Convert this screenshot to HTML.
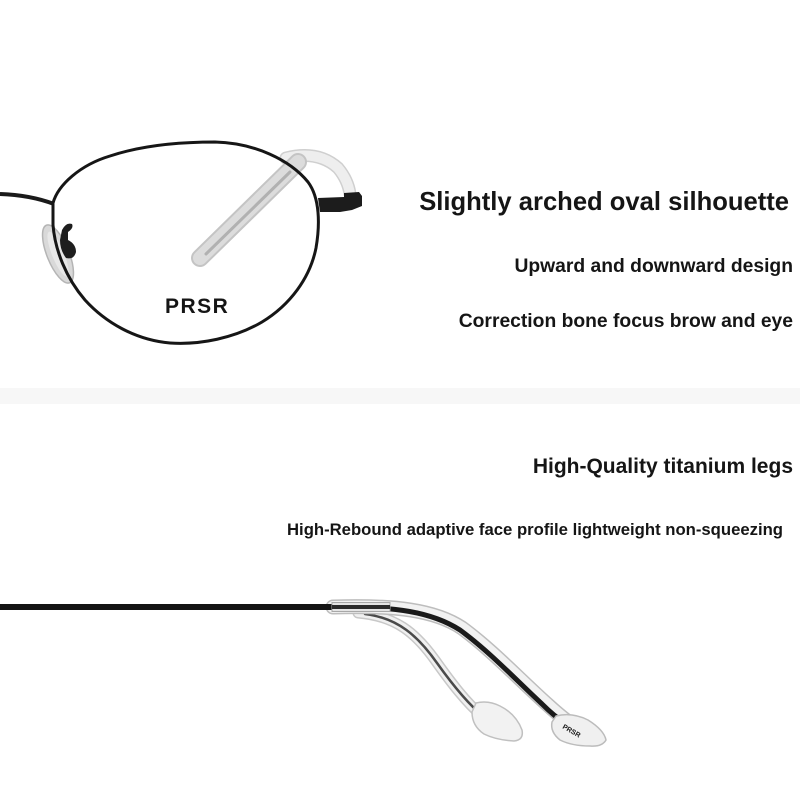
<!DOCTYPE html>
<html>
<head>
<meta charset="utf-8">
<style>
html,body{margin:0;padding:0;background:#fff;}
svg{display:block;}
text{font-family:"Liberation Sans",Arial,sans-serif;font-weight:bold;fill:#151515;}
</style>
</head>
<body>
<svg width="800" height="800" viewBox="0 0 800 800" xmlns="http://www.w3.org/2000/svg">
  <rect x="0" y="0" width="800" height="800" fill="#ffffff"/>
  <!-- gray separator band -->
  <rect x="0" y="388" width="800" height="16" fill="#f7f7f7"/>

  <!-- ===== TOP: front view frame ===== -->
  <!-- back temple (translucent) arc near hinge -->
  <path d="M286,158 Q318,150 338,168 Q348,180 350,194" fill="none" stroke="#cfcfcf" stroke-width="13" stroke-linecap="round"/>
  <path d="M286,158 Q318,150 338,168 Q348,180 350,194" fill="none" stroke="#eeeeee" stroke-width="10" stroke-linecap="round"/>
  <!-- temple tip seen through lens -->
  <path d="M298,162 L200,258" fill="none" stroke="#c4c4c4" stroke-width="18" stroke-linecap="round"/>
  <path d="M298,162 L200,258" fill="none" stroke="#dcdcdc" stroke-width="14" stroke-linecap="round"/>
  <path d="M290,172 L206,254" fill="none" stroke="#9e9e9e" stroke-width="3" stroke-linecap="round" opacity="0.7"/>

  <!-- nose pad -->
  <ellipse cx="58" cy="254" rx="11" ry="31" transform="rotate(-22 58 254)" fill="#d9d9d9" stroke="#b5b5b5" stroke-width="1.5"/>
  <ellipse cx="58" cy="254" rx="6" ry="24" transform="rotate(-22 58 254)" fill="#e8e8e8"/>
  <!-- pad arm -->
  <path d="M62,230 Q66,222 72,224 Q74,228 68,232 L68,240 Q76,244 76,252 Q74,260 66,258 Q60,250 60,240 Z" fill="#1e1e1e"/>

  <!-- bridge -->
  <path d="M0,194 Q30,195 54,204" fill="none" stroke="#1a1a1a" stroke-width="4"/>

  <!-- lens rim -->
  <path d="M53,203 C58,185 80,165 110,156 C140,146 175,142 215,142 C255,143 290,160 308,182 C320,198 320,225 316,248 C310,278 290,305 262,322 C235,338 200,345 170,343 C135,340 105,322 85,300 C66,278 55,250 53,225 Z" fill="none" stroke="#161616" stroke-width="3"/>

  <!-- end piece / hinge -->
  <path d="M318,198 L344,197 L344,193 L359,192 L362,196 L362,206 L352,210 L340,212 L320,212 Z" fill="#1c1c1c"/>

  <!-- PRSR logo -->
  <text x="165" y="313" font-size="21" letter-spacing="1.5" fill="#1e1e1e">PRSR</text>

  <!-- top texts -->
  <text x="789" y="210" font-size="25.6" text-anchor="end">Slightly arched oval silhouette</text>
  <text x="793" y="272" font-size="19.3" text-anchor="end">Upward and downward design</text>
  <text x="793" y="327" font-size="19.3" text-anchor="end">Correction bone focus brow and eye</text>

  <!-- bottom texts -->
  <text x="793" y="473" font-size="21" text-anchor="end">High-Quality titanium legs</text>
  <text x="783" y="535" font-size="16.7" text-anchor="end">High-Rebound adaptive face profile lightweight non-squeezing</text>

  <!-- ===== BOTTOM: side view temple ===== -->
  <!-- back temple -->
  <path d="M358,613 C395,616 415,632 435,660 C452,684 466,702 482,716" fill="none" stroke="#c8c8c8" stroke-width="11" stroke-linecap="round"/>
  <path d="M358,613 C395,616 415,632 435,660 C452,684 466,702 482,716" fill="none" stroke="#f0f0f0" stroke-width="8" stroke-linecap="round"/>
  <path d="M365,614 C398,618 418,636 437,663 C452,684 468,704 483,716" fill="none" stroke="#4a4a4a" stroke-width="2.5" stroke-linecap="round"/>
  <!-- back paddle -->
  <path d="M476,703 Q488,700 500,706 Q516,714 522,730 Q524,740 514,741 Q496,740 484,734 Q472,726 472,712 Z" fill="#f2f2f2" stroke="#c0c0c0" stroke-width="1.5"/>

  <!-- front temple sheath -->
  <path d="M333,607 C395,605 435,610 462,628 C492,650 520,680 548,705 C560,716 570,724 580,730" fill="none" stroke="#bdbdbd" stroke-width="15" stroke-linecap="round"/>
  <path d="M333,607 C395,605 435,610 462,628 C492,650 520,680 548,705 C560,716 570,724 580,730" fill="none" stroke="#f2f2f2" stroke-width="12" stroke-linecap="round"/>
  <!-- front temple black core -->
  <path d="M330,607 C395,606 432,612 460,630 C490,652 516,680 542,704 C552,714 560,720 566,724" fill="none" stroke="#1a1a1a" stroke-width="5" stroke-linecap="round"/>
  <!-- front paddle -->
  <path d="M556,716 Q572,712 588,720 Q604,730 606,740 Q602,747 590,746 Q572,746 560,740 Q550,732 552,722 Z" fill="#f0f0f0" stroke="#bcbcbc" stroke-width="1.5"/>
  <text x="562" y="728" font-size="7" fill="#777" font-weight="normal" transform="rotate(30 562 728)">PRSR</text>

  <!-- black bar -->
  <rect x="0" y="604" width="333" height="6" fill="#141414"/>
  <!-- silver sleeve -->
  <rect x="332" y="602.5" width="58" height="9" fill="#e4e4e4" stroke="#a8a8a8" stroke-width="1"/>
  <rect x="332" y="605" width="58" height="4" fill="#2a2a2a"/>
</svg>
</body>
</html>
